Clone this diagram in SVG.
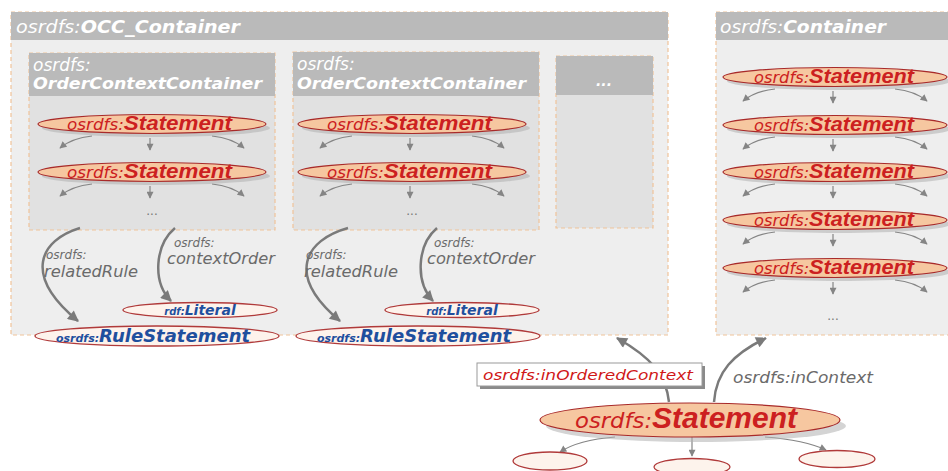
<svg xmlns="http://www.w3.org/2000/svg" width="948" height="471" viewBox="0 0 948 471">
<defs>
<style>
.bg{fill:#eeeeee;stroke:#f0c49a;stroke-width:1.2;stroke-dasharray:4 3}
.in{fill:#e1e1e1;stroke:#f0c49a;stroke-width:1.2;stroke-dasharray:4 3}
.hd{fill:#bababa}
.ht{font-family:"DejaVu Sans",sans-serif;font-style:italic;fill:#ffffff}
.b{font-weight:bold}
.st{fill:#f6c7a0;stroke:#a82a2a;stroke-width:1.2}
.sh{fill:#b0b0b0;opacity:.55}
.stt{font-family:"DejaVu Sans",sans-serif;font-style:italic;fill:#cc2020}
.big{font-family:"Liberation Sans",sans-serif;font-weight:bold;font-style:italic}
.lit{fill:#fdf3ec;stroke:#b03a3a;stroke-width:1.3}
.blue{fill:#1f4f9e;font-family:"DejaVu Sans",sans-serif;font-style:italic;font-weight:bold}
.lbl{font-family:"DejaVu Sans",sans-serif;font-style:italic;fill:#6a6a6a}
.dots{font-family:"DejaVu Sans",sans-serif;fill:#777777;font-size:12px}
.c{fill:none;stroke:#858585;stroke-width:1.2}
.ct{fill:none;stroke:#7a7a7a;stroke-width:2.5}
</style>
<marker id="sa" viewBox="0 0 10 10" refX="9" refY="5" markerWidth="8" markerHeight="7" markerUnits="userSpaceOnUse" orient="auto"><path d="M0,0 L10,5 L0,10 z" fill="#858585"/></marker>
<marker id="la" viewBox="0 0 10 10" refX="9" refY="5" markerWidth="15" markerHeight="11" markerUnits="userSpaceOnUse" orient="auto"><path d="M0,0 L10,5 L0,10 z" fill="#7a7a7a"/></marker>
<g id="fan">
<path class="c" d="M-60,12 Q-80,14 -92,24" marker-end="url(#sa)"/>
<path class="c" d="M-2,14 V26" marker-end="url(#sa)"/>
<path class="c" d="M60,12 Q80,14 92,24" marker-end="url(#sa)"/>
</g>
</defs>
<rect width="948" height="471" fill="#ffffff"/>

<g id="occ-container">
<rect class="bg" x="11" y="12" width="657" height="323"/>
<rect class="hd" x="11" y="12" width="657" height="28"/>
<text class="ht" x="16" y="33" font-size="17" textLength="224" lengthAdjust="spacingAndGlyphs">osrdfs:<tspan class="b">OCC_Container</tspan></text>
</g>

<g id="occ1">
<rect class="in" x="29" y="53" width="246" height="177"/>
<rect class="hd" x="29" y="53" width="246" height="43"/>
<text class="ht" x="33" y="71" font-size="17">osrdfs:</text>
<text class="ht b" x="33" y="89" font-size="15" textLength="229" lengthAdjust="spacingAndGlyphs">OrderContextContainer</text>
<text class="dots" x="152" y="215" text-anchor="middle">...</text>
</g>

<g id="occ2">
<rect class="in" x="293" y="52" width="246" height="178"/>
<rect class="hd" x="293" y="52" width="246" height="44"/>
<text class="ht" x="297" y="70" font-size="17">osrdfs:</text>
<text class="ht b" x="297" y="89" font-size="15" textLength="229" lengthAdjust="spacingAndGlyphs">OrderContextContainer</text>
<text class="dots" x="412" y="215" text-anchor="middle">...</text>
</g>

<g id="occ3">
<rect class="in" x="556" y="56" width="97" height="172"/>
<rect class="hd" x="556" y="56" width="97" height="39"/>
<text class="ht b" x="604" y="86" font-size="14" text-anchor="middle">...</text>
</g>

<g id="container">
<rect class="bg" x="716" y="12" width="250" height="323"/>
<rect class="hd" x="716" y="12" width="250" height="28"/>
<text class="ht" x="720" y="33" font-size="17" textLength="166" lengthAdjust="spacingAndGlyphs">osrdfs:<tspan class="b">Container</tspan></text>
<text class="dots" x="833" y="320" text-anchor="middle">...</text>
</g>

<g id="connectors">
<use href="#fan" x="152" y="124"/>
<use href="#fan" x="152" y="172"/>
<use href="#fan" x="412" y="124"/>
<use href="#fan" x="412" y="172"/>
<use href="#fan" x="835" y="77"/>
<use href="#fan" x="835" y="125"/>
<use href="#fan" x="835" y="172"/>
<use href="#fan" x="835" y="220"/>
<use href="#fan" x="835" y="268"/>
<path class="ct" d="M80,228 C40,240 22,275 78,321" marker-end="url(#la)"/>
<path class="ct" d="M175,228 C155,245 152,282 171,301" marker-end="url(#la)"/>
<path class="ct" d="M348,228 C305,240 285,275 340,321" marker-end="url(#la)"/>
<path class="ct" d="M437,228 C417,245 415,282 433,301" marker-end="url(#la)"/>
<path class="ct" d="M669,402 C666,375 652,358 617,338" marker-end="url(#la)"/>
<path class="ct" d="M714,402 C716,372 733,354 766,338" marker-end="url(#la)"/>
<path class="c" d="M615,437 Q578,440 560,452" marker-end="url(#sa)"/>
<path class="c" d="M692,437 V456" marker-end="url(#sa)"/>
<path class="c" d="M765,437 Q805,440 826,450" marker-end="url(#sa)"/>
<text class="lbl" x="46" y="259" font-size="12">osrdfs:</text>
<text class="lbl" x="44" y="277" font-size="15" textLength="94" lengthAdjust="spacingAndGlyphs">relatedRule</text>
<text class="lbl" x="174" y="247" font-size="12">osrdfs:</text>
<text class="lbl" x="167" y="264" font-size="15" textLength="108" lengthAdjust="spacingAndGlyphs">contextOrder</text>
<text class="lbl" x="306" y="259" font-size="12">osrdfs:</text>
<text class="lbl" x="304" y="277" font-size="15" textLength="94" lengthAdjust="spacingAndGlyphs">relatedRule</text>
<text class="lbl" x="434" y="247" font-size="12">osrdfs:</text>
<text class="lbl" x="427" y="264" font-size="15" textLength="108" lengthAdjust="spacingAndGlyphs">contextOrder</text>
<rect x="480" y="366" width="225" height="23" fill="#8a8a8a"/>
<rect x="477" y="363" width="225" height="23" fill="#ffffff" stroke="#9a9a9a"/>
<text x="483" y="380" font-family="DejaVu Sans, sans-serif" font-style="italic" font-size="14" fill="#d01818" textLength="210" lengthAdjust="spacingAndGlyphs">osrdfs:inOrderedContext</text>
<text class="lbl" x="733" y="383" font-size="15" textLength="140" lengthAdjust="spacingAndGlyphs">osrdfs:inContext</text>
</g>

<g id="s1a"><ellipse class="sh" cx="156" cy="128" rx="114" ry="9"/><ellipse class="st" cx="152" cy="124" rx="114" ry="9.5"/><text class="stt" x="67" y="130" font-size="15" textLength="165" lengthAdjust="spacingAndGlyphs">osrdfs:<tspan class="big" font-size="20">Statement</tspan></text></g>
<g id="s1b"><ellipse class="sh" cx="156" cy="176" rx="114" ry="9"/><ellipse class="st" cx="152" cy="172" rx="114" ry="9.5"/><text class="stt" x="67" y="178" font-size="15" textLength="165" lengthAdjust="spacingAndGlyphs">osrdfs:<tspan class="big" font-size="20">Statement</tspan></text></g>
<g id="s2a"><ellipse class="sh" cx="416" cy="128" rx="114" ry="9"/><ellipse class="st" cx="412" cy="124" rx="114" ry="9.5"/><text class="stt" x="327" y="130" font-size="15" textLength="165" lengthAdjust="spacingAndGlyphs">osrdfs:<tspan class="big" font-size="20">Statement</tspan></text></g>
<g id="s2b"><ellipse class="sh" cx="416" cy="176" rx="114" ry="9"/><ellipse class="st" cx="412" cy="172" rx="114" ry="9.5"/><text class="stt" x="327" y="178" font-size="15" textLength="165" lengthAdjust="spacingAndGlyphs">osrdfs:<tspan class="big" font-size="20">Statement</tspan></text></g>
<g id="c1"><ellipse class="sh" cx="839" cy="81" rx="112" ry="9"/><ellipse class="st" cx="835" cy="77" rx="112" ry="9.5"/><text class="stt" x="754" y="83" font-size="15" textLength="160" lengthAdjust="spacingAndGlyphs">osrdfs:<tspan class="big" font-size="20">Statement</tspan></text></g>
<g id="c2"><ellipse class="sh" cx="839" cy="129" rx="112" ry="9"/><ellipse class="st" cx="835" cy="125" rx="112" ry="9.5"/><text class="stt" x="754" y="131" font-size="15" textLength="160" lengthAdjust="spacingAndGlyphs">osrdfs:<tspan class="big" font-size="20">Statement</tspan></text></g>
<g id="c3"><ellipse class="sh" cx="839" cy="176" rx="112" ry="9"/><ellipse class="st" cx="835" cy="172" rx="112" ry="9.5"/><text class="stt" x="754" y="178" font-size="15" textLength="160" lengthAdjust="spacingAndGlyphs">osrdfs:<tspan class="big" font-size="20">Statement</tspan></text></g>
<g id="c4"><ellipse class="sh" cx="839" cy="224" rx="112" ry="9"/><ellipse class="st" cx="835" cy="220" rx="112" ry="9.5"/><text class="stt" x="754" y="226" font-size="15" textLength="160" lengthAdjust="spacingAndGlyphs">osrdfs:<tspan class="big" font-size="20">Statement</tspan></text></g>
<g id="c5"><ellipse class="sh" cx="839" cy="272" rx="112" ry="9"/><ellipse class="st" cx="835" cy="268" rx="112" ry="9.5"/><text class="stt" x="754" y="274" font-size="15" textLength="160" lengthAdjust="spacingAndGlyphs">osrdfs:<tspan class="big" font-size="20">Statement</tspan></text></g>

<g id="lit1"><ellipse class="lit" cx="200" cy="310" rx="77" ry="7.5"/><text class="blue" x="200" y="315" text-anchor="middle" font-size="10">rdf:<tspan font-size="14">Literal</tspan></text></g>
<g id="lit2"><ellipse class="lit" cx="462" cy="310" rx="77" ry="7.5"/><text class="blue" x="462" y="315" text-anchor="middle" font-size="10">rdf:<tspan font-size="14">Literal</tspan></text></g>
<g id="rule1"><ellipse class="lit" cx="157" cy="336" rx="122" ry="10"/><text class="blue" x="153" y="342" text-anchor="middle" font-size="11">osrdfs:<tspan font-size="18">RuleStatement</tspan></text></g>
<g id="rule2"><ellipse class="lit" cx="418" cy="336" rx="122" ry="10"/><text class="blue" x="414" y="342" text-anchor="middle" font-size="11">osrdfs:<tspan font-size="18">RuleStatement</tspan></text></g>

<g id="statement"><ellipse class="sh" cx="696" cy="426" rx="150" ry="16"/><ellipse class="st" cx="690" cy="420" rx="150" ry="17" fill="#f7c29a"/><text class="stt" x="575" y="428" font-size="22" textLength="222" lengthAdjust="spacingAndGlyphs">osrdfs:<tspan class="big" font-size="29">Statement</tspan></text></g>
<g id="o1"><ellipse class="lit" cx="550" cy="461" rx="37" ry="9"/></g>
<g id="o2"><ellipse class="lit" cx="692" cy="467" rx="38" ry="8.5"/></g>
<g id="o3"><ellipse class="lit" cx="837" cy="459" rx="38" ry="8.5"/></g>
</svg>
